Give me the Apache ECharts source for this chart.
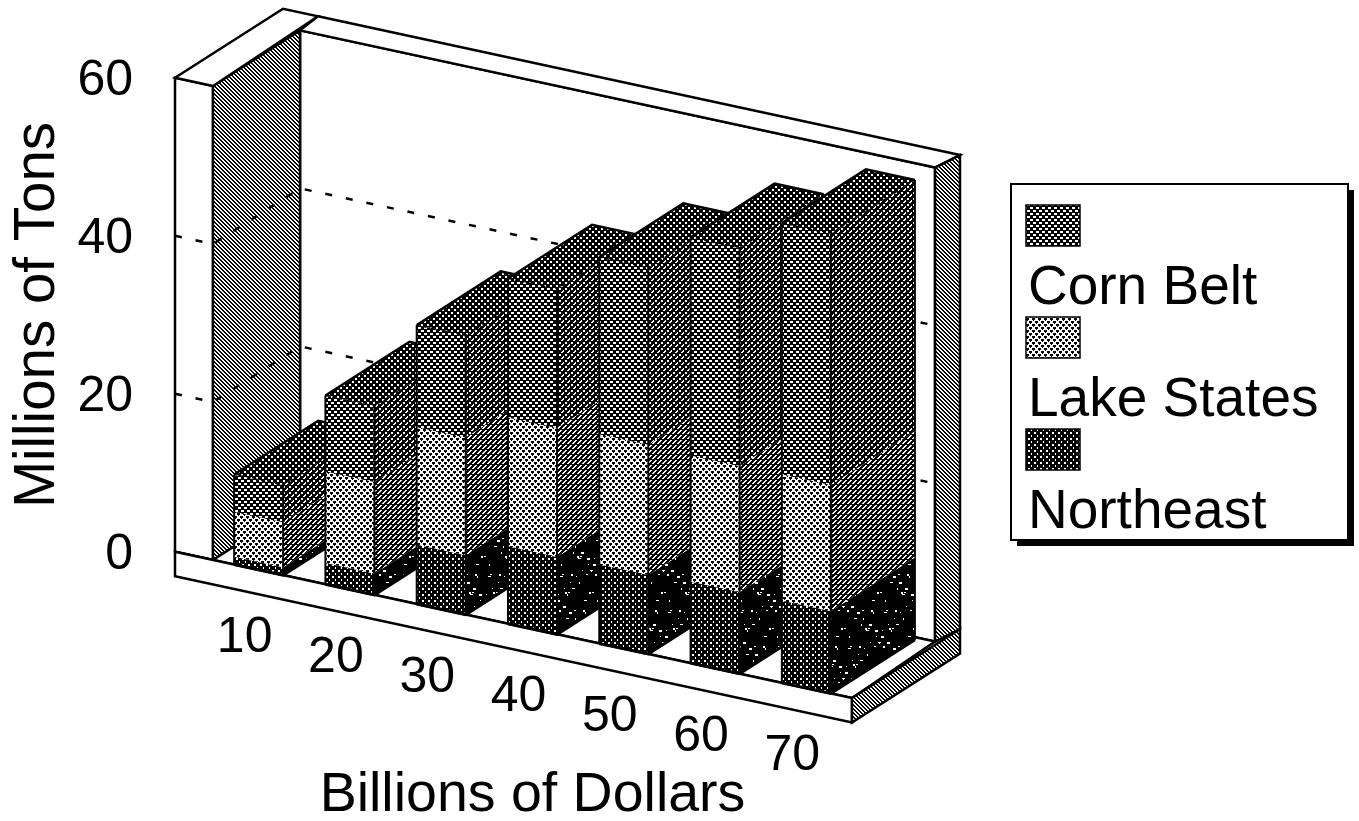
<!DOCTYPE html>
<html>
<head>
<meta charset="utf-8">
<style>html,body{margin:0;padding:0;background:#fff}#chart{width:1359px;height:821px}</style>
<script src="https://cdn.jsdelivr.net/npm/echarts@6/dist/echarts.min.js"></script>
</head>
<body>
<div id="chart"></div>
<script>
// Farm output by region against farm income, stacked and drawn as oblique 3D columns.
const categories = ['10', '20', '30', '40', '50', '60', '70'];
const northeast = [1.0, 2.7, 7.5, 9.8, 10.0, 10.3, 10.4];
const lakeStates = [5.7, 11.6, 14.9, 16.3, 16.5, 16.0, 16.0];
const cornBelt = [4.7, 9.6, 12.9, 17.6, 22.4, 27.6, 31.8];
const valueTicks = [0, 20, 40, 60];
const FONT = '"Liberation Sans", Arial, sans-serif';

// Oblique projection: fronts slope down to the right, depth runs up and to the right.
const ORIGIN_X = 176, SHEAR = 0.216, DEPTH_X = 108, DEPTH_Y = 69;
const BAR_DEPTH = 0.778, WALL_DEPTH = 0.806, BAR_RATIO = 0.537, SLAB = 3.1;

// Halftone tiles, one character per pixel.
function tile(rows) {
  const c = document.createElement('canvas');
  c.width = rows[0].length; c.height = rows.length;
  const g = c.getContext('2d');
  g.fillStyle = '#fff'; g.fillRect(0, 0, c.width, c.height);
  g.fillStyle = '#000';
  rows.forEach((r, y) => { for (let x = 0; x < r.length; x++) if (r[x] === '#') g.fillRect(x, y, 1, 1); });
  return { image: c, repeat: 'repeat' };
}
function speckleTile(size, count) {
  const c = document.createElement('canvas');
  c.width = c.height = size;
  const g = c.getContext('2d');
  g.fillStyle = '#000'; g.fillRect(0, 0, size, size);
  g.fillStyle = '#fff';
  for (let k = 1; k <= count; k++) {
    g.fillRect((k * 37) % size, (k * k * 11 + k * 5) % size, 1 + k % 3, 1 + (k % 2));
  }
  return { image: c, repeat: 'repeat' };
}
const wallHatch = tile(['##..', '.##.', '..##', '#..#']);
const cornFront = tile(['#...##', '#...##', '######', '.###..', '.###..', '######']);
const cornSide = tile(['#..###', '#..###', '#####.', '####..', '###..#', '######']);
const cornTop = tile(['#..###', '#..###', '######', '####..', '####..', '######']);
const lakeFront = tile(['###...', '###...', '.#....', '...###', '...###', '....#.']);
const lakeSide = tile(['..###', '.###.', '###..', '##..#', '#####']);
const northFront = tile(['##..##', '##..##', '######', '#####.', '#####.', '######']);
const northSide = speckleTile(72, 90);

const segments = [
  { name: 'Northeast', values: northeast, below: [], front: northFront, side: northSide },
  { name: 'Lake States', values: lakeStates, below: [northeast], front: lakeFront, side: lakeSide },
  { name: 'Corn Belt', values: cornBelt, below: [northeast, lakeStates], front: cornFront, side: cornSide, top: cornTop }
];

function project(api) {
  const y0 = api.coord([0, 0])[1], y1 = api.coord([0, 60])[1];
  const perUnit = (y0 - y1) / 60;
  return (x, v, d) => [x + d * DEPTH_X, y0 - v * perUnit + (x - ORIGIN_X) * SHEAR - d * DEPTH_Y];
}
const poly = (points, fill, z2, stroke) => ({
  type: 'polygon', z2, shape: { points },
  style: { fill, stroke: stroke || 'none', lineWidth: 2.5, lineJoin: 'miter' }
});
const line = (points, z2, width, dash) => ({
  type: 'polyline', z2, shape: { points },
  style: { fill: 'none', stroke: '#000', lineWidth: width || 2, lineDash: dash || null, lineJoin: 'miter' }
});

function renderFrame(params, api) {
  const p = project(api);
  const L = 175, LI = 213, R = 852, RI = 848, T = 60, W = WALL_DEPTH;
  const kids = [
    poly([p(LI, T, W), p(RI, T, W), p(RI, 0, W), p(LI, 0, W)], '#fff', 1, '#000'),
    poly([p(L, T, 0), p(LI, T, 0), p(LI, 0, 0), p(L, 0, 0)], '#fff', 2, '#000'),
    poly([p(LI, T, 0), p(LI, T, W), p(LI, 0, W), p(LI, 0, 0)], wallHatch, 3, '#000'),
    poly([p(L, T, 0), p(L, T, 1), p(210, T, 1), p(LI, T, 0)], '#fff', 3, '#000'),
    poly([p(210, T, 1), p(R, T, 1), p(RI, T, W), p(LI, T, W)], '#fff', 3, '#000'),
    poly([p(RI, T, W), p(R, T, 1), p(R, 0, 1), p(RI, 0, W)], wallHatch, 3, '#000'),
    poly([p(L, 0, 0), p(R, 0, 0), p(RI, 0, W), p(LI, 0, W), p(LI, 0, 0)], '#fff', 4, '#000'),
    poly([p(L, 0, 0), p(R, 0, 0), p(R, -SLAB, 0), p(L, -SLAB, 0)], '#fff', 5, '#000'),
    poly([p(R, 0, 0), p(R, 0, 1), p(R, -SLAB, 1), p(R, -SLAB, 0)], wallHatch, 5, '#000')
  ];
  valueTicks.filter(v => v > 0 && v < 60).forEach(v => {
    kids.push(line([p(L, v, 0), p(LI, v, 0), p(LI, v, W), p(RI, v, W)], 6, 2.5, [7, 14]));
  });
  return { type: 'group', children: kids };
}

function barRenderer(seg, segIndex) {
  return function (params, api) {
    const p = project(api);
    const i = api.value(0), low = api.value(1), high = api.value(2);
    const cx = api.coord([i, 0])[0];
    const half = api.size([1, 0])[0] * BAR_RATIO / 2;
    const a = cx - half, b = cx + half, D = BAR_DEPTH;
    const z = 10 + i * 10 + segIndex;
    const kids = [
      poly([p(b, low, 0), p(b, low, D), p(b, high, D), p(b, high, 0)], seg.side, z),
      poly([p(a, low, 0), p(b, low, 0), p(b, high, 0), p(a, high, 0)], seg.front, z),
      line([p(a, low, 0), p(a, high, 0)], z),
      line([p(b, low, 0), p(b, high, 0)], z),
      line([p(b, low, D), p(b, high, D)], z)
    ];
    if (segIndex === 0) {
      kids.push(line([p(a, 0, 0), p(b, 0, 0), p(b, 0, D)], z, 3));
    }
    if (seg.top) {
      kids.push(poly([p(a, high, 0), p(b, high, 0), p(b, high, D), p(a, high, D)], seg.top, z));
      kids.push(line([p(a, high, 0), p(a, high, D), p(b, high, D)], z, 2.5));
      kids.push(line([p(a, high, 0), p(b, high, 0), p(b, high, D)], z, 1.5, [3, 4]));
    }
    return { type: 'group', children: kids };
  };
}

function renderCategoryLabel(params, api) {
  const i = api.value(0);
  const cx = api.coord([i, 0])[0] - 14;
  const p = project(api);
  const base = p(cx, -SLAB, 0);
  return {
    type: 'text', z2: 200,
    style: { text: categories[i], x: cx, y: base[1] + 47, font: '50px ' + FONT, fill: '#000', textAlign: 'center', textVerticalAlign: 'middle' }
  };
}

const barSeries = segments.map((seg, si) => ({
  type: 'custom', name: seg.name, z: 3, silent: true, animation: false, clip: false,
  renderItem: barRenderer(seg, si),
  encode: { x: 0, y: [1, 2] },
  data: seg.values.map((v, i) => {
    const low = seg.below.reduce((sum, arr) => sum + arr[i], 0);
    return [i, low, low + v];
  })
}));

// Legend box: swatch on one row, its region name on the row below.
const legendX = 1011, legendY = 184, legendW = 337, legendH = 356;
const legendRows = [
  { name: 'Corn Belt', fill: cornFront, swatchY: 205, baseline: 316 },
  { name: 'Lake States', fill: lakeFront, swatchY: 317, baseline: 428 },
  { name: 'Northeast', fill: northFront, swatchY: 429, baseline: 540 }
];
const legendGraphic = [
  { type: 'rect', z: 5, silent: true, shape: { x: legendX + 6, y: legendY + 6, width: legendW, height: legendH }, style: { fill: '#000' } },
  { type: 'rect', z: 6, silent: true, shape: { x: legendX, y: legendY, width: legendW, height: legendH }, style: { fill: '#fff', stroke: '#000', lineWidth: 2 } }
];
legendRows.forEach(r => {
  legendGraphic.push({ type: 'rect', z: 7, silent: true, shape: { x: 1026, y: r.swatchY, width: 54, height: 41 }, style: { fill: r.fill, stroke: '#000', lineWidth: 1.5 } });
  legendGraphic.push({ type: 'text', z: 7, silent: true, style: { text: r.name, x: 1028, y: r.baseline, font: '55px ' + FONT, fill: '#000', textAlign: 'left', textVerticalAlign: 'bottom' } });
});

const chart = echarts.init(document.getElementById('chart'), null, { renderer: 'canvas' });
chart.setOption({
  animation: false,
  backgroundColor: '#fff',
  grid: { left: 213, right: 507, top: 78, bottom: 269, outerBoundsMode: 'none' },
  xAxis: {
    type: 'category', data: categories, boundaryGap: true,
    name: 'Billions of Dollars', nameLocation: 'middle', nameGap: 216,
    nameTextStyle: { fontFamily: FONT, fontSize: 55.5, color: '#000' },
    axisLine: { show: false }, axisTick: { show: false }, axisLabel: { show: false }, splitLine: { show: false }
  },
  yAxis: {
    type: 'value', min: 0, max: 60, interval: 20,
    name: 'Millions of Tons', nameLocation: 'middle', nameRotate: 90, nameGap: 146,
    nameTextStyle: { fontFamily: FONT, fontSize: 56.5, color: '#000' },
    axisLine: { show: false }, axisTick: { show: false }, splitLine: { show: false },
    axisLabel: { margin: 80, fontFamily: FONT, fontSize: 50, color: '#000', verticalAlign: 'top', lineHeight: 6 }
  },
  graphic: legendGraphic,
  series: [
    { type: 'custom', name: 'Frame', z: 2, silent: true, animation: false, clip: false, renderItem: renderFrame, encode: { x: 0, y: 1 }, data: [[0, 0]] }
  ].concat(barSeries, [
    { type: 'custom', name: 'Category labels', z: 4, silent: true, animation: false, clip: false, renderItem: renderCategoryLabel, encode: { x: 0, y: 1 }, data: categories.map((c, i) => [i, 0]) }
  ])
});
</script>
</body>
</html>
